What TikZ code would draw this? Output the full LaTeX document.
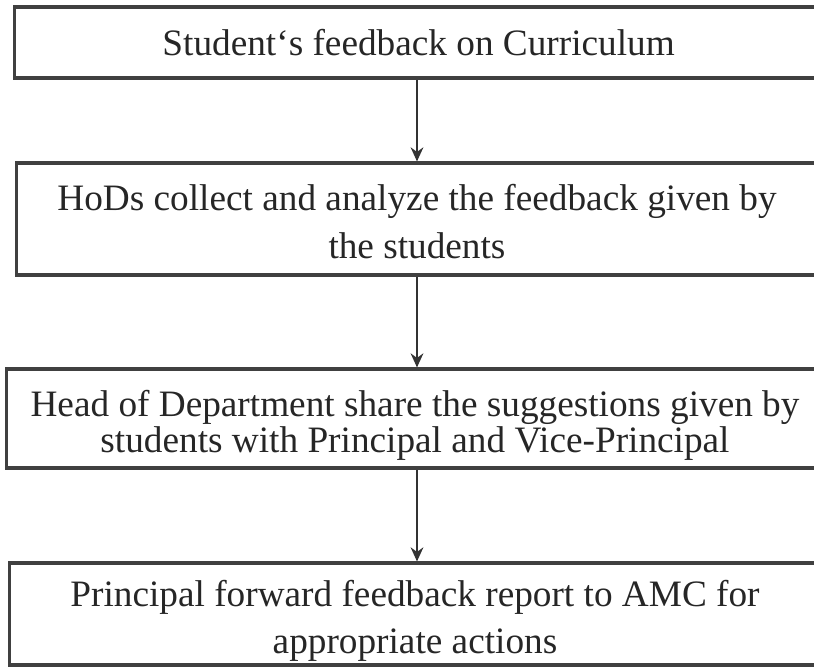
\documentclass[tikz,border=0pt]{standalone}
\usepackage{fontspec}
\setmainfont{Liberation Serif}
\usetikzlibrary{arrows.meta}
\def\flow{\draw[line width=1.6pt,draw=black!80,-{Stealth[length=10pt,width=9pt]}]}
\tikzset{stage/.style={draw=black!75,line width=2.2pt,inner sep=0pt},
    words/.style={align=center,inner sep=0pt,font=\fontsize{26.5}{34}\selectfont,text=black!85}}

\begin{document}
\begin{tikzpicture}[x=0.025cm,y=-0.025cm]
                \useasboundingbox (0,0) rectangle (814,667);
                % boxes
                \node[stage,minimum width=20.1cm,minimum height=1.775cm] (feedback) at (417,42.5) {};
                \node[stage,minimum width=20cm,minimum height=2.8cm] (collect) at (417,219) {};
                \node[stage,minimum width=20.5cm,minimum height=2.475cm] (share) at (417,418.5) {};
                \node[stage,minimum width=20.35cm,minimum height=2.55cm] (forward) at (417,614) {};
                % texts
                \node[words] (feedbacktext) at ([xshift=0.04cm]feedback.center) {Student‘s feedback on Curriculum};
                \node[words] (collecttext) at ([yshift=-0.07cm]collect.center)
                    {HoDs collect and analyze the feedback given by\\the students};
                \node[words,font=\fontsize{26.5}{25.5}\selectfont] (sharetext) at ([xshift=-0.05cm,yshift=-0.18cm]share.center)
                    {Head of Department share the suggestions given by\\students with Principal and Vice-Principal};
                \node[words] (forwardtext) at ([xshift=-0.05cm,yshift=-0.17cm]forward.center)
                    {Principal forward feedback report to AMC for\\appropriate actions};
                % arrows
                \flow (feedback.south) -- (collect.north);
                \flow (collect.south) -- (share.north);
                \flow (share.south) -- (forward.north);
            \end{tikzpicture}
\end{document}
